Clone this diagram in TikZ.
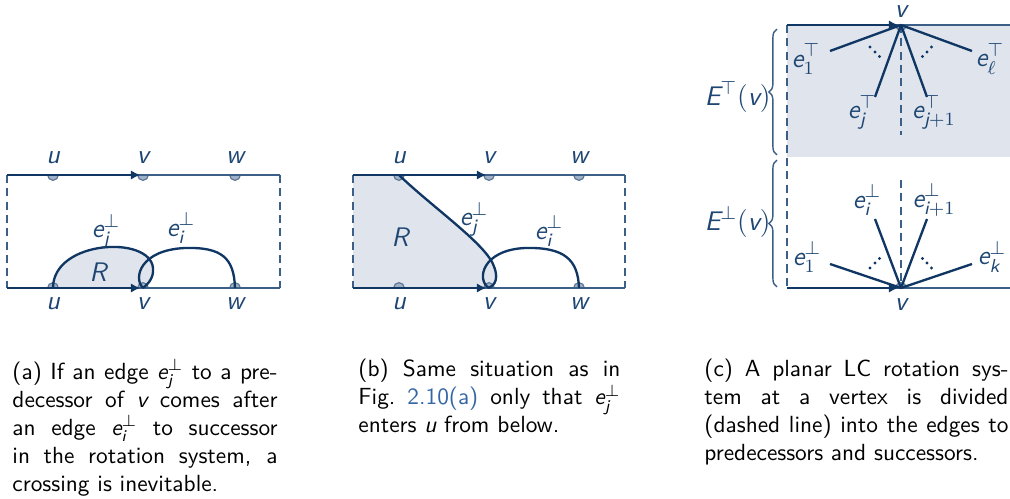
\documentclass[tikz,border=0pt]{standalone}
\usepackage{amsmath}
\usepackage{xcolor}
\usetikzlibrary{arrows.meta, decorations.pathreplacing}
\renewcommand{\familydefault}{\sfdefault}
\definecolor{myedge}{RGB}{16,55,100}
\definecolor{myline}{RGB}{60,95,135}
\definecolor{mylabel}{RGB}{30,70,115}
\definecolor{myfill}{RGB}{224,229,237}
\definecolor{mydot}{RGB}{160,178,200}
\definecolor{mydotline}{RGB}{95,120,150}
\definecolor{mylink}{RGB}{52,101,164}
\newcommand{\iv}[1]{\textit{#1}}

\begin{document}
\begin{tikzpicture}[x=0.4285pt, y=-0.4285pt,
  bline/.style={myline, line width=0.7pt},
  dline/.style={myline, line width=0.7pt, dash pattern=on 3.5pt off 2.2pt},
  redge/.style={myedge, line width=1pt},
  lab/.style={mylabel, inner sep=0pt, font=\fontsize{11.5pt}{13pt}\selectfont},
  vtx/.style={circle, inner sep=0pt, minimum size=2pt},
  vdot/.style={fill=mydot, draw=mydotline, line width=0.5pt},
  arr/.style={myedge, line width=0.7pt, -{Latex[length=4pt,width=4pt]}},
  brc/.style={myline, line width=0.6pt, decorate, decoration={brace, amplitude=3.5pt}},
  captext/.style={anchor=north west, inner sep=0pt, align=justify}]
\useasboundingbox (0,0) rectangle (1010,499);

%% (a)
\coordinate (tl1) at (7,175);   \coordinate (tr1) at (280,175);
\coordinate (bl1) at (7,288);   \coordinate (br1) at (280,288);
\node[vtx] (ut1) at (53,175) {};  \node[vtx] (vt1) at (143,175) {};  \node[vtx] (wt1) at (235,175) {};
\node[vtx] (ub1) at (53,288) {};  \node[vtx] (vb1) at (143,288) {};  \node[vtx] (wb1) at (235,288) {};

\fill[myfill] (ub1.center) .. controls (53,240) and (150,235) .. (153,268)
  .. controls (154,278) and (148,284) .. (vb1.center) -- cycle;
\begin{scope}
\clip (tl1) rectangle (br1);
\foreach \n in {ut1,vt1,wt1,ub1,vb1,wb1}
  \draw[vdot] (\n.center) circle (2.3pt);
\end{scope}

\draw[bline] (tl1) -- (tr1);
\draw[bline] (bl1) -- (br1);
\draw[dline] (tl1) -- (bl1);
\draw[dline] (tr1) -- (br1);
\draw[arr] (tl1) -- (vt1);
\draw[arr] (bl1) -- (vb1);

\draw[redge] (ub1.center) .. controls (53,240) and (150,235) .. (153,268)
  .. controls (154,278) and (148,284) .. (vb1.center);
\draw[redge] (vb1.center) .. controls (133,278) and (140,250) .. (185,248)
  .. controls (222,247) and (234,258) .. (wb1.center);

\node[lab] (lut1) at (53,158) {$\iv{u}$};
\node[lab] (lvt1) at (143,158) {$\iv{v}$};
\node[lab] (lwt1) at (235,158) {$\iv{w}$};
\node[lab] (lub1) at (53,304) {$\iv{u}$};
\node[lab] (lvb1) at (143,304) {$\iv{v}$};
\node[lab] (lwb1) at (235,304) {$\iv{w}$};
\node[lab] (lej1) at (106,231) {$\iv{e}_{\iv{j}}^{\perp}$};
\node[lab] (lei1) at (181,228) {$\iv{e}_{\iv{i}}^{\perp}$};
\node[lab] (lr1) at (98,272) {$\iv{R}$};

%% (b)
\coordinate (tl2) at (353,175);   \coordinate (tr2) at (625,175);
\coordinate (bl2) at (353,288);   \coordinate (br2) at (625,288);
\node[vtx] (ut2) at (399,175) {};  \node[vtx] (vt2) at (489,175) {};  \node[vtx] (wt2) at (579,175) {};
\node[vtx] (ub2) at (399,288) {};  \node[vtx] (vb2) at (489,288) {};  \node[vtx] (wb2) at (579,288) {};

\fill[myfill] (tl2) -- (ut2.center) .. controls (430,205) and (480,240) .. (492,262)
  .. controls (500,278) and (495,285) .. (vb2.center) -- (bl2) -- cycle;
\begin{scope}
\clip (tl2) rectangle (br2);
\foreach \n in {ut2,vt2,wt2,ub2,vb2,wb2}
  \draw[vdot] (\n.center) circle (2.3pt);
\end{scope}

\draw[bline] (tl2) -- (tr2);
\draw[bline] (bl2) -- (br2);
\draw[dline] (tl2) -- (bl2);
\draw[dline] (tr2) -- (br2);
\draw[arr] (tl2) -- (vt2);
\draw[arr] (bl2) -- (vb2);

\draw[redge] (ut2.center) .. controls (430,205) and (480,240) .. (492,262)
  .. controls (500,278) and (495,285) .. (vb2.center);
\draw[redge] (vb2.center) .. controls (476,280) and (482,250) .. (525,248)
  .. controls (565,247) and (578,260) .. (wb2.center);

\node[lab] (lut2) at (399,158) {$\iv{u}$};
\node[lab] (lvt2) at (489,158) {$\iv{v}$};
\node[lab] (lwt2) at (579,158) {$\iv{w}$};
\node[lab] (lub2) at (399,304) {$\iv{u}$};
\node[lab] (lvb2) at (489,304) {$\iv{v}$};
\node[lab] (lwb2) at (579,304) {$\iv{w}$};
\node[lab] (lej2) at (474,219) {$\iv{e}_{\iv{j}}^{\perp}$};
\node[lab] (lei2) at (549,231) {$\iv{e}_{\iv{i}}^{\perp}$};
\node[lab] (lr2) at (400,237) {$\iv{R}$};

%% (c)
\coordinate (tl3) at (787,25);   \coordinate (tr3) at (1010,25);
\coordinate (bl3) at (787,288);  \coordinate (br3) at (1010,288);
\node[vtx] (vt3) at (901,25) {};
\node[vtx] (vb3) at (901,288) {};

\fill[myfill] (tl3) rectangle (1010,157);
\begin{scope}
\clip (tl3) rectangle (br3);
\foreach \n in {vt3,vb3}
  \draw[vdot] (\n.center) circle (2.3pt);
\end{scope}

\draw[bline] (tl3) -- (tr3);
\draw[bline] (bl3) -- (br3);
\draw[dline] (tl3) -- (bl3);
\draw[arr] (tl3) -- (vt3);
\draw[arr] (bl3) -- (vb3);
\draw[dline] (vt3.center) -- (901,135);
\draw[dline] (901,180) -- (vb3.center);

% edges at the top
\coordinate (et1) at (830,51);  \coordinate (etj) at (875,97);
\coordinate (etk) at (927,97);  \coordinate (etl) at (972,51);
\foreach \c in {et1,etj,etk,etl}
  \draw[redge] (vt3.center) -- (\c);
% edges at the bottom
\coordinate (eb1) at (830,264);  \coordinate (ebi) at (875,219);
\coordinate (ebk) at (927,219);  \coordinate (ebl) at (972,264);
\foreach \c in {eb1,ebi,ebk,ebl}
  \draw[redge] (vb3.center) -- (\c);

\foreach \p in {(870,47),(875,52),(879.5,56.5),(931.5,47),(927,52),(922.5,56.5),
                (870,268),(875,263),(879.5,258.5),(922.5,258.5),(927,263),(931.5,268)}
  \fill[myedge] \p circle (0.7pt);

\node[lab] (lvt3) at (901,12) {$\iv{v}$};
\node[lab] (lvb3) at (901,305) {$\iv{v}$};
\node[lab] (let1) at (806,59) {$\iv{e}_1^{\top}$};
\node[lab] (letj) at (862,112) {$\iv{e}_{\iv{j}}^{\top}$};
\node[lab] (letk) at (934,112) {$\iv{e}_{\iv{j}+1}^{\top}$};
\node[lab] (letl) at (990,59) {$\iv{e}_{\ell}^{\top}$};
\node[lab] (lebi) at (867,200) {$\iv{e}_{\iv{i}}^{\perp}$};
\node[lab] (lebk) at (934,200) {$\iv{e}_{\iv{i}+1}^{\perp}$};
\node[lab] (leb1) at (807,257) {$\iv{e}_1^{\perp}$};
\node[lab] (lebl) at (992,257) {$\iv{e}_{\iv{k}}^{\perp}$};

\draw[brc] (777,155) -- (777,29);
\draw[brc] (777,287) -- (777,160);
\node[lab, anchor=east] (letop) at (771,97) {$\iv{E}^{\top}(\iv{v})$};
\node[lab, anchor=east] (lebot) at (771,222) {$\iv{E}^{\perp}(\iv{v})$};

%% captions
\node[captext, text width=113.6pt] (capa) at (12,359)
  {(a) If an edge $\iv{e}_{\iv{j}}^{\perp}$ to a pre-\linebreak
   decessor of $\iv{v}$ comes after\linebreak
   an edge $\iv{e}_{\iv{i}}^{\perp}$ to successor\linebreak
   in the rotation system, a\linebreak
   crossing is inevitable.};
\node[captext, text width=112.3pt] (capb) at (358,359)
  {(b) Same situation as in\linebreak
   Fig.~\textcolor{mylink}{2.10(a)} only that $\iv{e}_{\iv{j}}^{\perp}$\linebreak
   enters $\iv{u}$ from below.};
\node[captext, text width=130.3pt] (capc) at (704,359)
  {(c) A planar LC rotation sys-\linebreak
   tem at a vertex is divided\linebreak
   (dashed line) into the edges to\linebreak
   predecessors and successors.};
\end{tikzpicture}
\end{document}
